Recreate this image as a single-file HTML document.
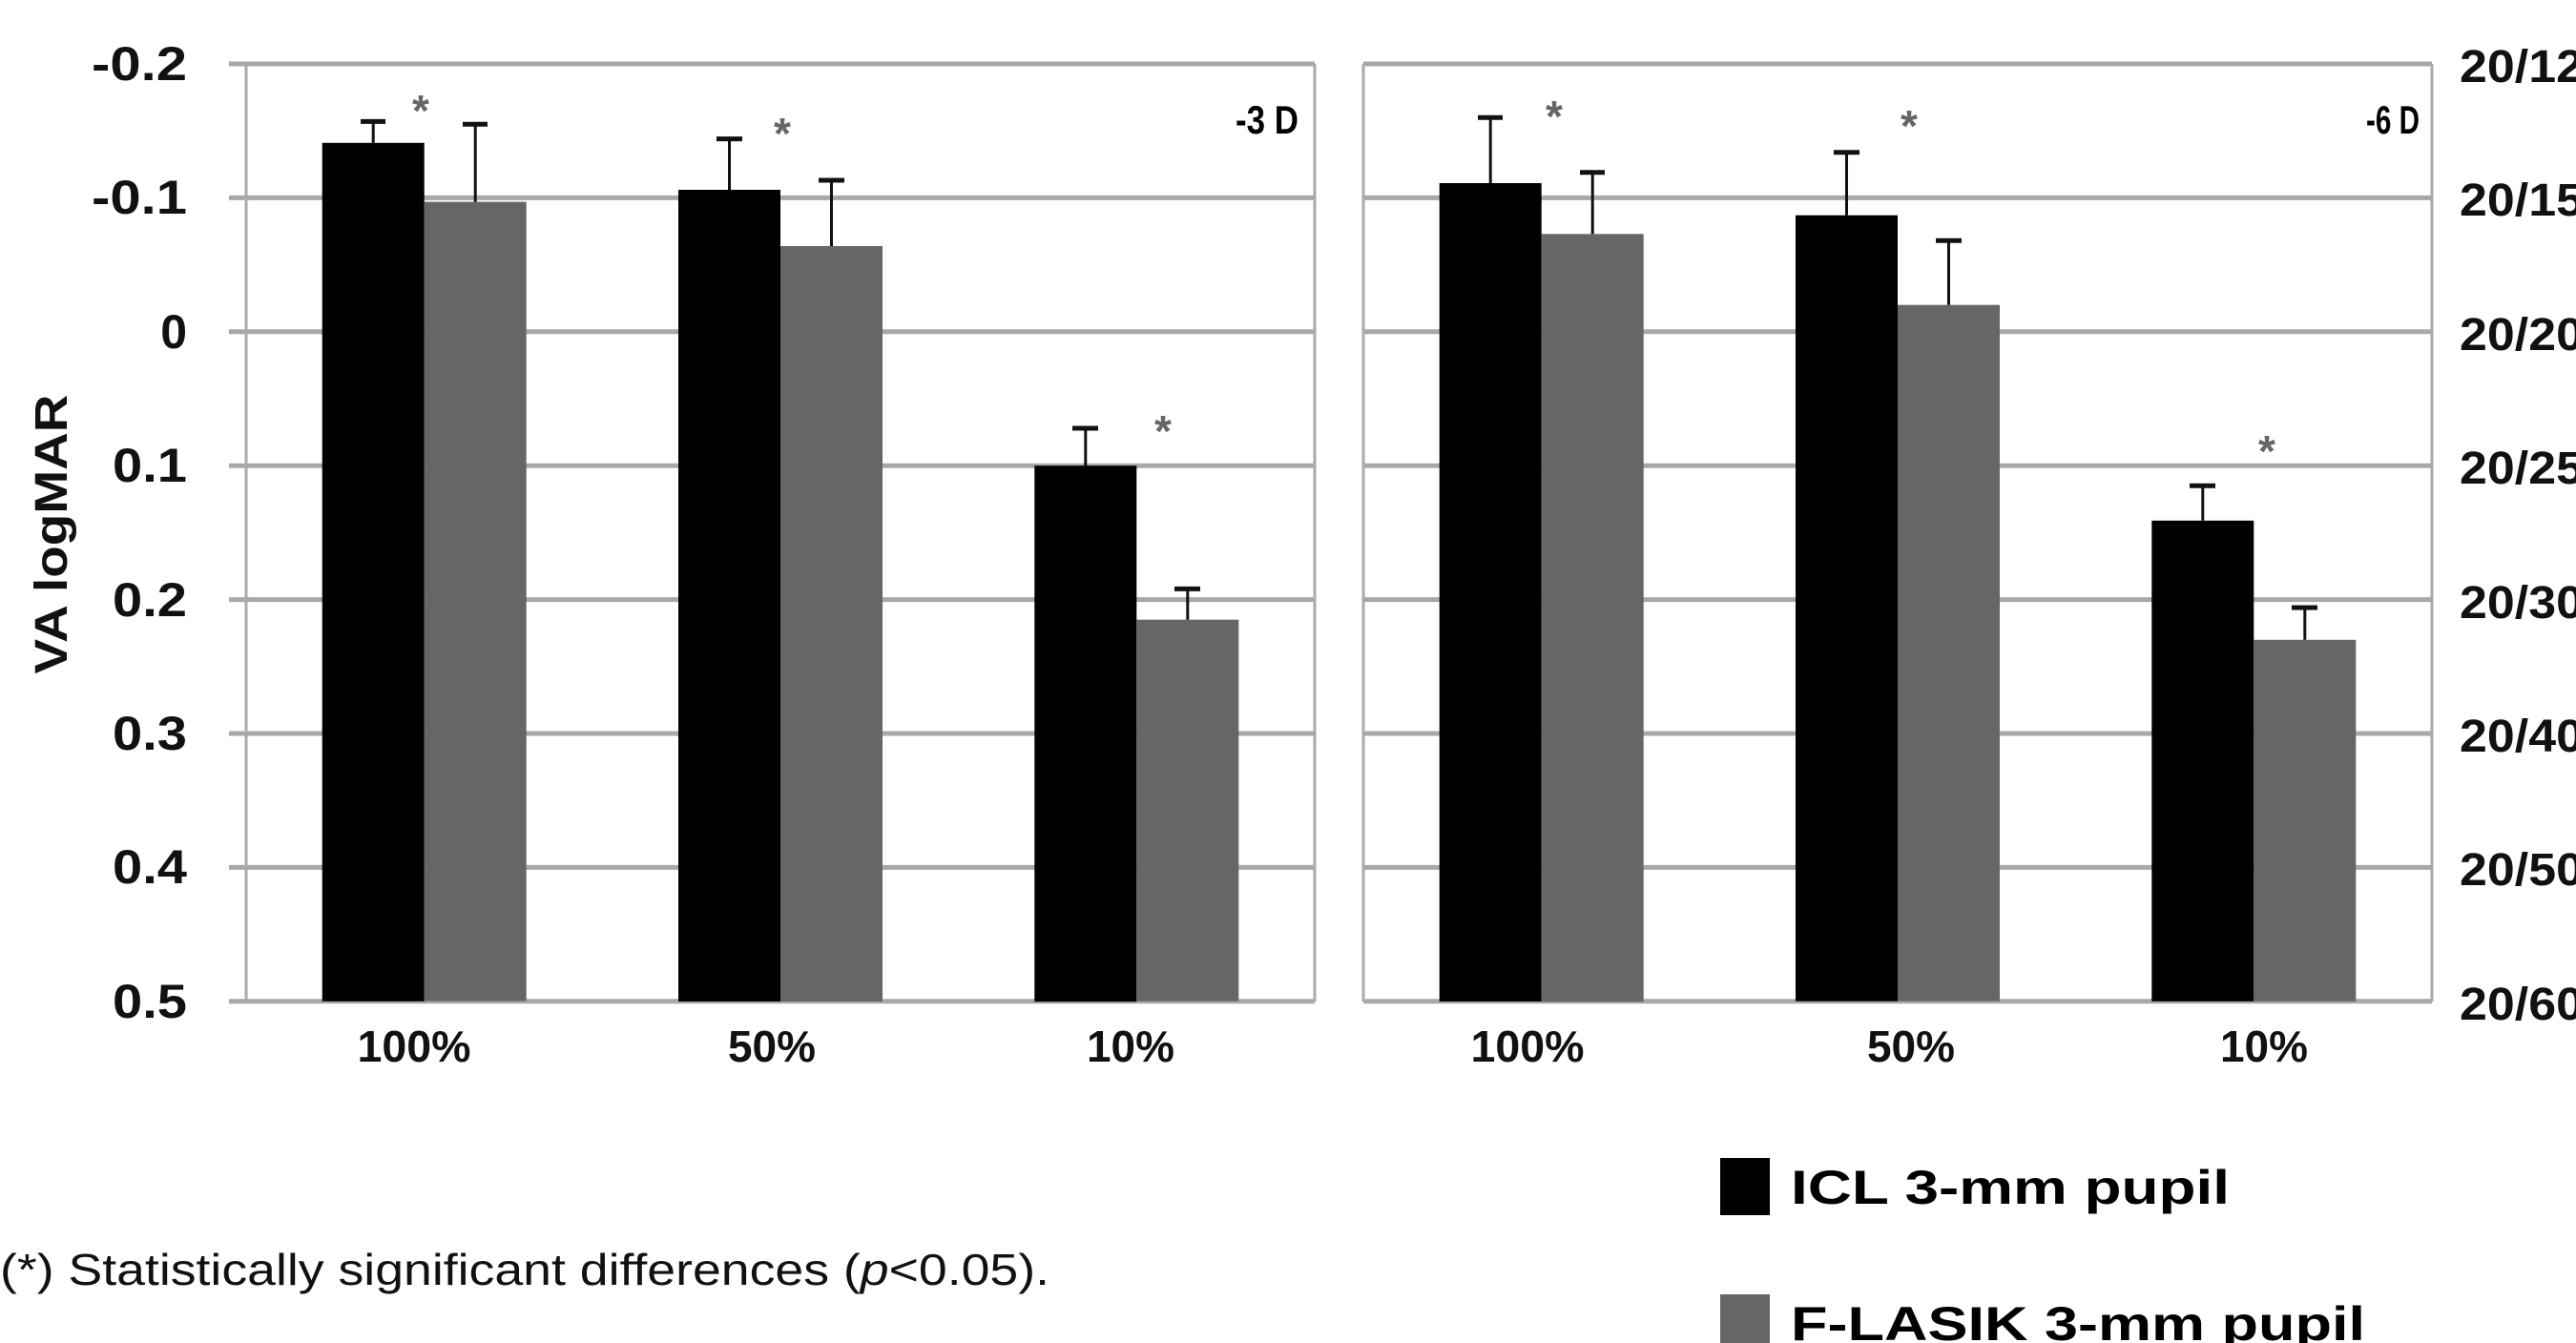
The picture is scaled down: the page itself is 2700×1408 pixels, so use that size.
<!DOCTYPE html>
<html><head><meta charset="utf-8"><style>html,body{margin:0;padding:0;background:#fff}svg{display:block}</style></head>
<body>
<svg width="2700" height="1408" viewBox="0 0 2700 1408" xmlns="http://www.w3.org/2000/svg" font-family="Liberation Sans, sans-serif">
<rect width="2700" height="1408" fill="#fff"/>
<g stroke="#a8a8a8" stroke-width="5">
<line x1="240" y1="67" x2="1378" y2="67"/><line x1="240" y1="207.4" x2="1378" y2="207.4"/><line x1="240" y1="347.8" x2="1378" y2="347.8"/><line x1="240" y1="488.2" x2="1378" y2="488.2"/><line x1="240" y1="628.6" x2="1378" y2="628.6"/><line x1="240" y1="769" x2="1378" y2="769"/><line x1="240" y1="909.4" x2="1378" y2="909.4"/><line x1="240" y1="1049.8" x2="1378" y2="1049.8"/>
<line x1="1429" y1="67" x2="2549" y2="67"/><line x1="1429" y1="207.4" x2="2549" y2="207.4"/><line x1="1429" y1="347.8" x2="2549" y2="347.8"/><line x1="1429" y1="488.2" x2="2549" y2="488.2"/><line x1="1429" y1="628.6" x2="2549" y2="628.6"/><line x1="1429" y1="769" x2="2549" y2="769"/><line x1="1429" y1="909.4" x2="2549" y2="909.4"/><line x1="1429" y1="1049.8" x2="2549" y2="1049.8"/>
</g>
<g stroke="#aaa" stroke-width="3" fill="none">
<line x1="258" y1="67" x2="258" y2="1050"/><line x1="1378" y1="67" x2="1378" y2="1050"/>
<line x1="1429" y1="67" x2="1429" y2="1050"/><line x1="2549" y1="67" x2="2549" y2="1050"/>
</g>
<g fill="#000">
<rect x="337.7" y="149.8" width="107" height="900"/>
<rect x="711" y="199" width="107" height="851"/>
<rect x="1084.3" y="488.2" width="107" height="562"/>
<rect x="1508.7" y="192" width="107" height="858"/>
<rect x="1882" y="225.7" width="107" height="824"/>
<rect x="2255.3" y="545.8" width="107" height="504"/>
</g>
<g fill="#666">
<rect x="444.7" y="211.6" width="107" height="838"/>
<rect x="818" y="258" width="107" height="792"/>
<rect x="1191.3" y="649.7" width="107" height="400"/>
<rect x="1615.7" y="245.3" width="107" height="805"/>
<rect x="1989" y="319.7" width="107" height="730"/>
<rect x="2362.3" y="670.8" width="107" height="379"/>
</g>
<g stroke="#111" stroke-width="3">
<line x1="391.2" y1="149.8" x2="391.2" y2="127.4"/><line x1="378" y1="127.4" x2="404" y2="127.4" stroke-width="5"/>
<line x1="498.2" y1="211.6" x2="498.2" y2="130.2"/><line x1="485" y1="130.2" x2="511" y2="130.2" stroke-width="5"/>
<line x1="764.5" y1="199" x2="764.5" y2="145.6"/><line x1="751" y1="145.6" x2="778" y2="145.6" stroke-width="5"/>
<line x1="871.5" y1="258" x2="871.5" y2="189"/><line x1="858" y1="189" x2="885" y2="189" stroke-width="5"/>
<line x1="1137.8" y1="488.2" x2="1137.8" y2="449"/><line x1="1124" y1="449" x2="1151" y2="449" stroke-width="5"/>
<line x1="1244.8" y1="649.7" x2="1244.8" y2="617.4"/><line x1="1231" y1="617.4" x2="1258" y2="617.4" stroke-width="5"/>
<line x1="1562.2" y1="192" x2="1562.2" y2="123.2"/><line x1="1549" y1="123.2" x2="1575" y2="123.2" stroke-width="5"/>
<line x1="1669.2" y1="245.3" x2="1669.2" y2="180.7"/><line x1="1656" y1="180.7" x2="1682" y2="180.7" stroke-width="5"/>
<line x1="1935.5" y1="225.7" x2="1935.5" y2="159.7"/><line x1="1922" y1="159.7" x2="1949" y2="159.7" stroke-width="5"/>
<line x1="2042.5" y1="319.7" x2="2042.5" y2="252.3"/><line x1="2029" y1="252.3" x2="2056" y2="252.3" stroke-width="5"/>
<line x1="2308.8" y1="545.8" x2="2308.8" y2="509.3"/><line x1="2295" y1="509.3" x2="2322" y2="509.3" stroke-width="5"/>
<line x1="2415.8" y1="670.8" x2="2415.8" y2="637"/><line x1="2402" y1="637" x2="2429" y2="637" stroke-width="5"/>
</g>
<g fill="#666" font-size="46" font-weight="bold" text-anchor="middle">
<text x="441" y="132">*</text><text x="820" y="156">*</text><text x="1219" y="468">*</text>
<text x="1629" y="138">*</text><text x="2001" y="148">*</text><text x="2376" y="489">*</text>
</g>
<g font-size="42" font-weight="bold" fill="#000">
<text x="1295" y="140" textLength="66" lengthAdjust="spacingAndGlyphs">-3 D</text><text x="2480" y="140" textLength="56" lengthAdjust="spacingAndGlyphs">-6 D</text>
</g>
<g font-size="50" font-weight="bold" text-anchor="end" fill="#111">
<text x="196" y="84" textLength="100" lengthAdjust="spacingAndGlyphs">-0.2</text><text x="196" y="224" textLength="100" lengthAdjust="spacingAndGlyphs">-0.1</text><text x="196" y="365">0</text><text x="196" y="505" textLength="78" lengthAdjust="spacingAndGlyphs">0.1</text><text x="196" y="646" textLength="78" lengthAdjust="spacingAndGlyphs">0.2</text><text x="196" y="786" textLength="78" lengthAdjust="spacingAndGlyphs">0.3</text><text x="196" y="926" textLength="78" lengthAdjust="spacingAndGlyphs">0.4</text><text x="196" y="1067" textLength="78" lengthAdjust="spacingAndGlyphs">0.5</text>
</g>
<g font-size="48" font-weight="bold" fill="#111">
<text x="2578" y="86" textLength="130" lengthAdjust="spacingAndGlyphs">20/12</text><text x="2578" y="226" textLength="130" lengthAdjust="spacingAndGlyphs">20/15</text><text x="2578" y="367" textLength="130" lengthAdjust="spacingAndGlyphs">20/20</text><text x="2578" y="507" textLength="130" lengthAdjust="spacingAndGlyphs">20/25</text><text x="2578" y="648" textLength="130" lengthAdjust="spacingAndGlyphs">20/30</text><text x="2578" y="788" textLength="130" lengthAdjust="spacingAndGlyphs">20/40</text><text x="2578" y="928" textLength="130" lengthAdjust="spacingAndGlyphs">20/50</text><text x="2578" y="1069" textLength="130" lengthAdjust="spacingAndGlyphs">20/60</text>
</g>
<text x="0" y="0" transform="translate(70,560) rotate(-90)" font-size="48" font-weight="bold" text-anchor="middle" fill="#111" textLength="293" lengthAdjust="spacingAndGlyphs">VA logMAR</text>
<g font-size="46" font-weight="bold" text-anchor="middle" fill="#111">
<text x="434" y="1113" textLength="119" lengthAdjust="spacingAndGlyphs">100%</text><text x="809" y="1113" textLength="92" lengthAdjust="spacingAndGlyphs">50%</text><text x="1185" y="1113" textLength="92" lengthAdjust="spacingAndGlyphs">10%</text>
<text x="1601" y="1113" textLength="119" lengthAdjust="spacingAndGlyphs">100%</text><text x="2003" y="1113" textLength="92" lengthAdjust="spacingAndGlyphs">50%</text><text x="2373" y="1113" textLength="92" lengthAdjust="spacingAndGlyphs">10%</text>
</g>
<text x="0" y="1347" font-size="46" fill="#111" textLength="1100" lengthAdjust="spacingAndGlyphs">(*) Statistically significant differences (<tspan font-style="italic">p</tspan>&lt;0.05).</text>
<rect x="1803" y="1214" width="52" height="60" fill="#000"/>
<text x="1877" y="1262" font-size="50" font-weight="bold" fill="#000" textLength="460" lengthAdjust="spacingAndGlyphs">ICL 3-mm pupil</text>
<rect x="1803" y="1357" width="52" height="55" fill="#666"/>
<text x="1877" y="1405" font-size="50" font-weight="bold" fill="#000" textLength="602" lengthAdjust="spacingAndGlyphs">F-LASIK 3-mm pupil</text>
</svg>
</body></html>
